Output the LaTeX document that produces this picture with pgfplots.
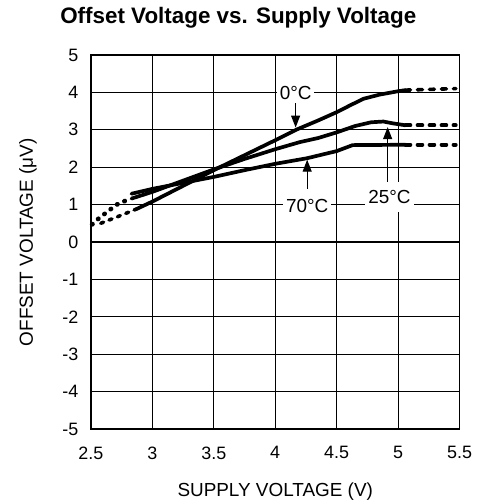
\documentclass[border=0pt]{standalone}
\usepackage{pgfplots}
\pgfplotsset{compat=1.18}
\usepackage{fontspec}
\setmainfont{Liberation Sans}
\usetikzlibrary{arrows.meta}

\pgfplotstableread{
x y
2.87 0.88
3.00 1.08
3.25 1.50
3.50 1.92
3.75 2.32
4.00 2.72
4.17 3.00
4.35 3.25
4.50 3.47
4.62 3.67
4.72 3.83
4.85 3.94
5.00 4.03
5.06 4.06
}\zeroC
\pgfplotstableread{
x y
2.83 1.16
3.00 1.34
3.25 1.64
3.50 1.94
3.75 2.22
4.00 2.48
4.20 2.67
4.35 2.78
4.50 2.93
4.65 3.10
4.78 3.20
4.88 3.22
4.96 3.17
5.06 3.12
}\twentyfiveC
\pgfplotstableread{
x y
2.83 1.29
3.00 1.42
3.25 1.58
3.50 1.74
3.75 1.92
4.00 2.09
4.26 2.24
4.50 2.43
4.63 2.59
5.06 2.60
}\seventyC

\begin{document}
\begin{tikzpicture}
\useasboundingbox (-91bp,-75bp) rectangle (386bp,429.5bp);
\begin{axis}[
  at={(0,0)}, anchor=south west,
  width=369bp, height=374.5bp, scale only axis,
  xmin=2.5, xmax=5.5, ymin=-5, ymax=5,
  xtick={2.5,3,3.5,4,4.5,5,5.5}, xticklabels={2.5,3,3.5,4,4.5,5,5.5},
  ytick={-5,-4,-3,-2,-1,0,1,2,3,4,5}, yticklabels={-5,-4,-3,-2,-1,0,1,2,3,4,5},
  grid=major, major grid style={black, line width=1.1bp},
  axis line style={black, line width=1.3bp},
  major tick length=0pt,
  tick label style={font=\fontsize{18}{20}\selectfont},
  xticklabel style={yshift=-14bp},
  yticklabel style={xshift=-9bp},
  clip=false,
]
% left extensions
\addplot[black, line width=3.6bp, line cap=round, dash pattern=on 3bp off 6bp] coordinates {(2.58,0.50) (2.72,0.68) (2.87,0.88)};
\addplot[black, line width=4.6bp, line cap=round, dash pattern=on 0.5bp off 7.5bp] coordinates {(2.51,0.47) (2.56,0.62) (2.63,0.80) (2.71,1.00) (2.80,1.13)};
% solid curves
\addplot[black, line width=3.7bp, line join=round, line cap=round] table {\zeroC};
\addplot[black, line width=3.7bp, line join=round, line cap=round] table {\twentyfiveC};
\addplot[black, line width=3.7bp, line join=round, line cap=round] table {\seventyC};
% right extensions
\addplot[black, line width=3.6bp, line cap=round, dash pattern=on 5bp off 7bp] coordinates {(5.06,4.06) (5.47,4.10)};
\addplot[black, line width=3.6bp, line cap=round, dash pattern=on 5bp off 7bp] coordinates {(5.06,3.12) (5.47,3.12)};
\addplot[black, line width=3.6bp, line cap=round, dash pattern=on 5bp off 7bp] coordinates {(5.06,2.60) (5.47,2.60)};
% annotations
\node[fill=white, inner xsep=3bp, inner ysep=2bp, font=\fontsize{19}{22}\selectfont] at (axis cs:4.166,3.97) {0°C};
\draw[line width=1.2bp, -{Triangle[length=12bp,width=9bp]}] (axis cs:4.166,3.71) -- (axis cs:4.166,3.06);
\node[fill=white, inner xsep=3bp, inner ysep=2bp, font=\fontsize{19}{22}\selectfont] at (axis cs:4.26,0.97) {70°C};
\draw[line width=1.2bp, -{Triangle[length=12bp,width=9bp]}] (axis cs:4.26,1.43) -- (axis cs:4.26,2.20);
\node[fill=white, inner xsep=3bp, minimum height=30bp, font=\fontsize{19}{22}\selectfont] at (axis cs:4.93,1.21) {25°C};
\draw[line width=1.2bp, -{Triangle[length=12bp,width=9bp]}] (axis cs:4.915,1.61) -- (axis cs:4.915,3.07);
\end{axis}
\node[anchor=base, font=\bfseries\fontsize{22.5}{27}\selectfont] at (147.5bp,406bp) {Offset Voltage vs. Supply Voltage};
\node[anchor=base, font=\fontsize{19}{22}\selectfont] at (184.5bp,-67bp) {SUPPLY VOLTAGE (V)};
\node[anchor=base, rotate=90, font=\fontsize{19}{22}\selectfont] at (-58bp,187bp) {OFFSET VOLTAGE (μV)};
\end{tikzpicture}
\end{document}
